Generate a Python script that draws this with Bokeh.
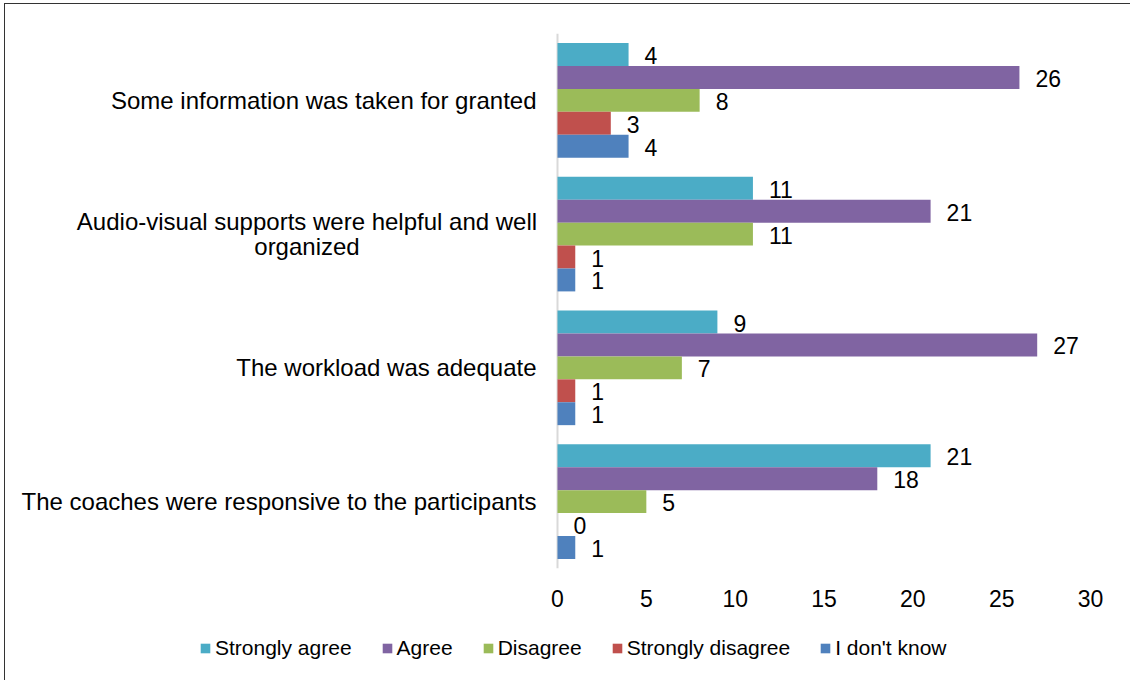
from bokeh.plotting import figure
from bokeh.models import ColumnDataSource, FactorRange, Range1d, LabelSet, Legend, LegendItem, Span
from bokeh.layouts import column
from bokeh.core.properties import value
from bokeh.transform import dodge
from bokeh.embed import file_html
from bokeh.resources import INLINE

categories = ["Some information was taken for granted",
              "Audio-visual supports were helpful and well\norganized",
              "The workload was adequate",
              "The coaches were responsive to the participants"]
series = ["Strongly agree", "Agree", "Disagree", "Strongly disagree", "I don't know"]
strongly_agree = [4, 11, 9, 21]
agree = [26, 21, 27, 18]
disagree = [8, 11, 7, 5]
strongly_disagree = [3, 1, 1, 0]
dont_know = [4, 1, 1, 1]
colors = ["#4BACC6", "#8064A2", "#9BBB59", "#C0504D", "#4F81BD"]
x_ticks = [0, 5, 10, 15, 20, 25, 30]

FONT = "Liberation Sans"
values = [strongly_agree, agree, disagree, strongly_disagree, dont_know]
keys = ["sa", "a", "d", "sd", "dk"]

data = {"cat": categories}
for k, v in zip(keys, values):
    data[k] = v
    data[k + "_txt"] = [str(x) for x in v]
src = ColumnDataSource(data)

# the frame spans the full canvas width; value 0 sits 552px from its left edge
PX_PER_UNIT = 533 / 30.0
X0 = -552 / PX_PER_UNIT

p = figure(width=1125, height=620, output_backend="svg", toolbar_location=None,
           y_range=FactorRange(factors=list(reversed(categories)), range_padding=0),
           x_range=Range1d(X0, 30),
           min_border_left=0, min_border_right=40, min_border_top=29, min_border_bottom=56)
p.outline_line_color = None
p.grid.visible = False
p.yaxis.visible = False
p.background_fill_color = "white"
p.border_fill_color = "white"

p.add_layout(Span(location=0, dimension="height", line_color="#D9D9D9", line_width=2,
                  level="underlay"))

bar_h = 0.1713
offsets = [2 * bar_h, bar_h, 0, -bar_h, -2 * bar_h]

for k, name, c, off in zip(keys, series, colors, offsets):
    p.hbar(y=dodge("cat", off, range=p.y_range), left=0, right=k, height=bar_h,
           fill_color=c, line_color=None, source=src)
    p.add_layout(LabelSet(x=k, y=dodge("cat", off, range=p.y_range), text=k + "_txt",
                          source=src, x_offset=16, y_offset=-1,
                          text_align="left", text_baseline="middle",
                          text_font=value(FONT), text_font_size="23px", text_color="black"))

# category labels (single-line ones right-aligned at the axis,
# the two-line one with each line centred, as in the original)
single = [c for c in categories if "\n" not in c]
multi = [c for c in categories if "\n" in c]
p.add_layout(LabelSet(x=0, y="cat", text="cat", x_offset=-21,
                      source=ColumnDataSource({"cat": single}),
                      text_align="right", text_baseline="middle",
                      text_font=value(FONT), text_font_size="24px", text_color="black"))
line_gap = 24.5
for li, dy in ((0, line_gap / 2), (1, -line_gap / 2)):
    p.add_layout(LabelSet(x=0, y="cat", text="line", x_offset=-250.5, y_offset=dy,
                          source=ColumnDataSource({"cat": multi,
                                                   "line": [m.split("\n")[li] for m in multi]}),
                          text_align="center", text_baseline="middle",
                          text_font=value(FONT), text_font_size="24px", text_color="black"))

xa = p.xaxis[0]
xa.ticker = x_ticks
xa.axis_line_color = None
xa.major_tick_line_color = None
xa.minor_tick_line_color = None
xa.major_tick_out = 0
xa.major_tick_in = 0
xa.major_label_standoff = 21
xa.major_label_text_font = FONT
xa.major_label_text_font_size = "23px"
xa.major_label_text_color = "black"

# legend strip below the chart
lg = figure(width=1125, height=56, output_backend="svg", toolbar_location=None,
            x_range=Range1d(0, 1), y_range=Range1d(0, 1),
            min_border_left=0, min_border_right=40, min_border_top=0, min_border_bottom=0)
lg.axis.visible = False
lg.grid.visible = False
lg.outline_line_color = None
lg.background_fill_color = "white"
lg.border_fill_color = "white"
offscreen = ColumnDataSource({"y": [-10], "r": [1]})
items = []
for name, c in zip(series, colors):
    r = lg.hbar(y="y", left=0, right="r", height=0.1, fill_color=c, line_color=None,
                source=offscreen)
    items.append(LegendItem(label=name, renderers=[r]))
legend = Legend(items=items, location=(194, 20), orientation="horizontal",
                glyph_width=12, glyph_height=12, label_standoff=4, spacing=29,
                padding=0, margin=0, border_line_color=None, background_fill_alpha=0,
                label_text_font=FONT, label_text_font_size="21px", label_text_color="black",
                label_height=24)
lg.add_layout(legend, "center")

layout = column(p, lg, spacing=0)
layout.styles = {"border-top": "1px solid #333", "border-left": "1px solid #333",
                 "margin-left": "4px", "margin-top": "3px"}

open("out.html", "w").write(file_html(layout, INLINE))
